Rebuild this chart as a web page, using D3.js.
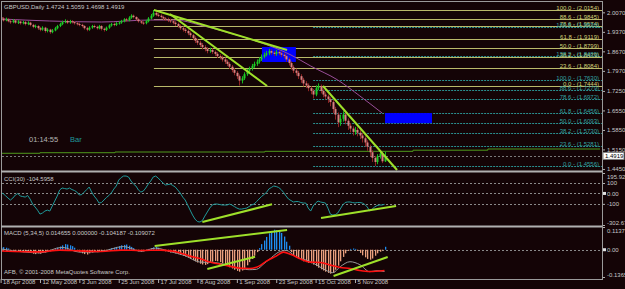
<!DOCTYPE html>
<meta charset="utf-8">
<script src="https://d3js.org/d3.v7.min.js"></script>
<style>
  body { margin: 0; background: #000; }
  svg text { font-family: "Liberation Sans", Arial, sans-serif; }
</style>
<svg id="chart" width="625" height="289"></svg>
<script>

  // ---- data ----
  var firstOpen = 1.990;
  var closes = [1.985,1.978,1.982,1.975,1.972,1.978,1.970,1.974,1.968,1.972,
    1.965,1.970,1.962,1.955,1.958,1.950,1.945,1.952,1.940,1.945,
    1.936,1.942,1.950,1.958,1.965,1.972,1.976,1.970,1.975,1.972,
    1.968,1.965,1.962,1.958,1.950,1.945,1.952,1.958,1.955,1.950,
    1.958,1.948,1.944,1.952,1.960,1.965,1.962,1.968,1.970,1.975,
    1.982,1.978,1.988,1.995,1.990,1.982,1.975,1.970,1.968,1.975,
    1.985,1.995,2.005,1.998,1.995,1.990,1.985,1.982,1.978,1.975,
    1.970,1.965,1.958,1.950,1.945,1.940,1.932,1.925,1.915,1.905,
    1.898,1.890,1.882,1.875,1.868,1.872,1.865,1.858,1.850,1.845,
    1.838,1.830,1.822,1.812,1.800,1.790,1.778,1.762,1.770,1.785,
    1.798,1.805,1.815,1.822,1.830,1.838,1.848,1.855,1.860,1.868,
    1.862,1.858,1.865,1.860,1.855,1.850,1.838,1.825,1.810,1.798,
    1.790,1.778,1.765,1.752,1.745,1.735,1.725,1.712,1.735,1.742,
    1.725,1.712,1.705,1.695,1.685,1.660,1.640,1.612,1.625,1.640,
    1.618,1.600,1.590,1.578,1.585,1.575,1.565,1.555,1.540,1.525,
    1.505,1.485,1.470,1.490,1.500,1.4724,1.4919];
  var highs = [1.995,1.990,1.988,1.986,1.980,1.983,1.981,1.979,1.978,1.977,
    1.976,1.975,1.973,1.966,1.963,1.961,1.955,1.957,1.955,1.950,
    1.948,1.947,1.955,1.962,1.970,1.977,1.982,1.980,1.980,1.979,
    1.976,1.973,1.970,1.966,1.961,1.955,1.957,1.962,1.963,1.959,
    1.962,1.961,1.952,1.956,1.964,1.969,1.970,1.972,1.975,1.980,
    1.986,1.987,1.993,2.000,1.999,1.993,1.986,1.979,1.975,1.980,
    1.990,2.001,2.0154,2.010,2.004,2.000,1.995,1.990,1.988,1.984,
    1.980,1.975,1.970,1.963,1.956,1.951,1.946,1.938,1.930,1.921,
    1.912,1.905,1.897,1.889,1.882,1.880,1.878,1.870,1.864,1.857,
    1.852,1.845,1.837,1.828,1.818,1.807,1.796,1.784,1.778,1.792,
    1.804,1.812,1.822,1.830,1.838,1.846,1.856,1.863,1.868,1.876,
    1.874,1.868,1.872,1.870,1.866,1.861,1.856,1.844,1.831,1.817,
    1.805,1.797,1.785,1.772,1.760,1.752,1.742,1.732,1.745,1.752,
    1.748,1.731,1.720,1.712,1.702,1.692,1.668,1.648,1.640,1.652,
    1.648,1.626,1.610,1.598,1.596,1.594,1.584,1.574,1.562,1.548,
    1.532,1.512,1.492,1.498,1.512,1.506,1.5059];
  var lows = [1.980,1.974,1.975,1.971,1.966,1.968,1.966,1.965,1.963,1.964,
    1.960,1.961,1.957,1.950,1.950,1.944,1.939,1.941,1.934,1.935,
    1.930,1.932,1.939,1.946,1.954,1.961,1.968,1.965,1.966,1.967,
    1.963,1.960,1.957,1.953,1.945,1.939,1.941,1.948,1.950,1.945,
    1.946,1.942,1.938,1.940,1.948,1.956,1.957,1.958,1.963,1.966,
    1.971,1.973,1.975,1.984,1.985,1.977,1.970,1.965,1.962,1.964,
    1.971,1.981,1.991,1.993,1.990,1.985,1.980,1.976,1.972,1.969,
    1.964,1.958,1.952,1.944,1.938,1.933,1.925,1.917,1.907,1.897,
    1.890,1.882,1.874,1.867,1.860,1.862,1.858,1.850,1.843,1.838,
    1.830,1.822,1.814,1.804,1.792,1.781,1.768,1.7444,1.752,1.764,
    1.779,1.791,1.798,1.808,1.815,1.823,1.832,1.842,1.849,1.853,
    1.855,1.850,1.851,1.853,1.847,1.842,1.830,1.816,1.801,1.789,
    1.780,1.768,1.754,1.741,1.735,1.724,1.713,1.698,1.706,1.728,
    1.716,1.702,1.694,1.682,1.670,1.645,1.622,1.595,1.600,1.615,
    1.605,1.585,1.576,1.565,1.568,1.562,1.552,1.540,1.525,1.510,
    1.490,1.470,1.4556,1.462,1.482,1.466,1.4698];

  var cci = [4,-1,-22,-44,-63,-44,-15,-1,-25,-30,
    -35,-20,-54,-102,-130,-160,-198,-188,-169,-160,
    -169,-121,-73,-25,33,52,47,42,52,37,
    28,13,-15,-11,13,37,61,13,-25,-54,
    -92,-87,-63,-39,-20,4,42,71,128,152,
    167,167,157,119,90,71,33,13,23,52,
    90,119,157,167,148,124,100,81,85,90,
    76,61,33,4,-35,-63,-111,-159,-207,-246,
    -270,-274,-260,-217,-178,-140,-111,-102,-102,-106,
    -111,-111,-111,-102,-111,-126,-140,-150,-150,-145,
    -140,-126,-111,-102,-78,-54,-30,-11,9,42,
    57,71,66,57,37,9,-25,-54,-68,-82,
    -78,-78,-87,-92,-92,-140,-169,-121,-92,-73,
    -82,-87,-92,-140,-198,-207,-203,-188,-150,-111,
    -87,-82,-82,-87,-92,-87,-87,-92,-106,-130,
    -169,-150,-130,-116,-111,-111,-104.5958];

  var macdHist = [0.012,0.013,0.010,0.006,-0.004,-0.006,-0.008,-0.006,-0.010,-0.012,
    -0.010,-0.014,-0.016,-0.020,-0.022,-0.018,-0.020,-0.016,-0.014,-0.012,
    -0.008,-0.004,0.004,0.010,0.016,0.022,0.028,0.026,0.022,0.018,
    0.010,-0.006,-0.012,-0.018,-0.022,-0.024,-0.018,-0.014,-0.010,-0.012,
    -0.008,-0.010,-0.008,-0.004,0.004,0.008,0.010,0.014,0.018,0.022,
    0.024,0.026,0.020,0.014,0.008,-0.004,-0.008,-0.010,-0.008,-0.004,
    0.004,0.008,0.012,0.014,0.010,0.004,-0.004,-0.008,-0.010,-0.014,
    -0.016,-0.018,-0.022,-0.026,-0.030,-0.034,-0.040,-0.046,-0.052,-0.058,
    -0.064,-0.070,-0.074,-0.076,-0.072,-0.066,-0.060,-0.056,-0.058,-0.062,
    -0.068,-0.074,-0.080,-0.088,-0.094,-0.100,-0.106,-0.110,-0.104,-0.092,
    -0.078,-0.062,-0.046,-0.030,-0.012,0.008,0.028,0.046,0.064,0.082,
    0.094,0.100,0.098,0.096,0.084,0.066,0.040,0.020,-0.012,-0.030,
    -0.040,-0.046,-0.052,-0.058,-0.062,-0.066,-0.068,-0.074,-0.082,-0.090,
    -0.098,-0.104,-0.110,-0.116,-0.120,-0.116,-0.100,-0.080,-0.058,-0.036,
    -0.018,-0.006,0.004,0.006,0.004,-0.006,-0.016,-0.028,-0.038,-0.046,
    -0.050,-0.044,-0.030,-0.018,-0.010,-0.004,0.014655];

  // [bar index, value]
  var macdSignal = [[0,-0.006],[16,-0.011],[24,-0.002],[32,-0.006],[41,-0.009],[49,-0.002],
    [57,-0.004],[65,-0.002],[69,-0.006],[73,-0.016],[77,-0.032],[81,-0.044],[85,-0.062],
    [89,-0.072],[93,-0.082],[97,-0.092],[101,-0.094],[105,-0.082],[108,-0.057],[112,-0.032],
    [115,-0.012],[118,-0.024],[122,-0.047],[126,-0.062],[130,-0.064],[134,-0.077],[138,-0.089],
    [142,-0.094],[146,-0.104],[150,-0.109],[156,-0.104187]];
  var macdGray = [[0,0.004],[10,-0.012],[16,-0.016],[25,0.012],[32,-0.012],[40,-0.010],
    [50,0.016],[57,-0.008],[63,0.008],[69,-0.010],[75,-0.030],[81,-0.062],[86,-0.064],
    [90,-0.070],[95,-0.090],[98,-0.096],[101,-0.100],[104,-0.098],[107,-0.070],[110,-0.040],
    [113,-0.012],[116,-0.004],[120,-0.035],[126,-0.060],[131,-0.095],[135,-0.115],[138,-0.085],
    [142,-0.060],[146,-0.075],[150,-0.110],[153,-0.105],[156,-0.109072]];

  var maPurple = [[0.6,1.9830],[20,1.9759],[41,1.9723],[61,1.9795],[71,1.9795],[81,1.9615],
    [93,1.9328],[105,1.9005],[118,1.8539],[126,1.8144],[137,1.7642],[146,1.7068],[155,1.6458]];
  var maLong = [[0,1.5012],[16,1.5033],[46.5,1.5058],[107.4,1.5083],[167.6,1.5123],[198,1.5166],[243.6,1.5166]];

  var fibYellow = [["100.0",2.0154],["88.6",1.9845],["78.6",1.9574],["61.8",1.9119],
    ["50.0",1.8799],["38.2",1.8479],["23.6",1.8084],["0.0",1.7444]];
  var fibCyan = [["161.8",1.9530],["138.2",1.8489],["100.0",1.7630],["88.6",1.7279],["78.6",1.6972],
    ["61.8",1.6456],["50.0",1.6093],["38.2",1.5730],["23.6",1.5281],["0.0",1.4556]];
  var fibYellowStart = 62.3, fibCyanStart = 127;

  // [i1, v1, i2, v2]
  var trendPrice = [[62.3,2.0153,116.4,1.8718],[68.8,2.0010,108.3,1.7426],[131,1.7426,161.1,1.4412]];
  var trendCci = [[82,-274,110.3,-104],[130.2,-236,160.7,-121]];
  var trendMacd = [[62.6,0.0185,116.4,0.0986],[84,-0.0966,103.4,-0.035],[135.3,-0.1317,157.3,-0.0366]];
  var boxes = [[106.2,1.8826,120.0,1.8288],[156.2,1.6456,175.3,1.6093]];

  var dateIdx = [0,16,32,48,64,80,96,112,128,144];
  var dateLabels = ["18 Apr 2008","12 May 2008","3 Jun 2008","25 Jun 2008","17 Jul 2008",
    "8 Aug 2008","1 Sep 2008","23 Sep 2008","15 Oct 2008","5 Nov 2008"];
  var priceTicks = [2.0070,1.9370,1.8670,1.7970,1.7250,1.6550,1.5850,1.5150,1.4450];
  var cciTicks = [195.9209,100,0,-100,-302.674];
  var cciLevels = [100,0,-100];
  var macdTicks = [0.11373,0,-0.13657];

  // ---- layout ----
  var svg = d3.select("#chart"),
    width = +svg.attr("width"),
    height = +svg.attr("height");
  var axisX = 602;

  var x = d3.scaleLinear().domain([0, 156]).range([0.6, 384.5]);
  var y = d3.scaleLinear().domain([1.4556, 2.0154]).range([166, 10]);
  var yCci = d3.scaleLinear().domain([-302.674, 195.9209]).range([225, 173]);
  var yMacd = d3.scaleLinear().domain([-0.13657, 0.11373]).range([277, 227]);

  svg.append("rect").attr("width", width).attr("height", height).attr("fill", "#140406");

  var defs = svg.append("defs");
  defs.append("clipPath").attr("id", "cMain").append("rect").attr("x", 2).attr("y", 2).attr("width", axisX - 2).attr("height", 169);
  defs.append("clipPath").attr("id", "cCci").append("rect").attr("x", 2).attr("y", 173).attr("width", axisX - 2).attr("height", 53);
  defs.append("clipPath").attr("id", "cMacd").append("rect").attr("x", 2).attr("y", 228).attr("width", axisX - 2).attr("height", 51);

  var main = svg.append("g").attr("clip-path", "url(#cMain)");

  // fibonacci levels
  function fib(levels, start, lineCol, textCol, dash) {
    levels.forEach(function(l) {
      main.append("line")
        .attr("x1", x(start)).attr("x2", axisX)
        .attr("y1", Math.round(y(l[1])) + 0.5).attr("y2", Math.round(y(l[1])) + 0.5)
        .attr("stroke", lineCol).attr("stroke-dasharray", dash);
      svg.append("text")
        .attr("x", 599).attr("y", Math.round(y(l[1])) - 0.5)
        .attr("text-anchor", "end").attr("font-size", "6px").attr("fill", textCol)
        .text(l[0] + " - (" + l[1].toFixed(4) + ")");
    });
  }
  fib(fibYellow, fibYellowStart, "#b9b96a", "#d2d278", null);
  fib(fibCyan, fibCyanStart, "#2a8f8f", "#33a3a3", "2,1");

  // boxes
  main.selectAll(".box").data(boxes).enter().append("rect")
    .attr("x", function(d) { return x(d[0]); })
    .attr("y", function(d) { return y(d[1]); })
    .attr("width", function(d) { return x(d[2]) - x(d[0]); })
    .attr("height", function(d) { return y(d[3]) - y(d[1]); })
    .attr("fill", "#0000ff");

  // long MA and bid line
  var priceLine = d3.line().x(function(d) { return x(d[0]); }).y(function(d) { return y(d[1]); });
  main.append("path").attr("d", priceLine.curve(d3.curveStepAfter)(maLong))
    .attr("fill", "none").attr("stroke", "#4f9a1c");
  main.append("line").attr("x1", 2).attr("x2", axisX)
    .attr("y1", Math.round(y(closes[156])) + 0.5).attr("y2", Math.round(y(closes[156])) + 0.5)
    .attr("stroke", "#7a7a7a").attr("stroke-dasharray", "2,2");

  main.append("path").attr("d", priceLine.curve(d3.curveMonotoneX)(maPurple))
    .attr("fill", "none").attr("stroke", "#9a4f9a");

  // candles
  var bars = closes.map(function(c, i) {
    return { i: i, o: i ? closes[i - 1] : firstOpen, c: c, h: highs[i], l: lows[i] };
  });
  var cg = main.append("g");
  cg.selectAll(".wick").data(bars).enter().append("line")
    .attr("x1", function(d) { return Math.round(x(d.i)) + 0.5; })
    .attr("x2", function(d) { return Math.round(x(d.i)) + 0.5; })
    .attr("y1", function(d) { return y(d.h); })
    .attr("y2", function(d) { return y(d.l); })
    .attr("stroke", function(d) { return d.c >= d.o ? "#16b81e" : "#8e2222"; });
  cg.selectAll(".body").data(bars).enter().append("rect")
    .attr("x", function(d) { return Math.round(x(d.i)) - 0.5; })
    .attr("width", 2)
    .attr("y", function(d) { return y(Math.max(d.o, d.c)); })
    .attr("height", function(d) { return Math.max(1, Math.abs(y(d.o) - y(d.c))); })
    .attr("fill", function(d) { return d.c >= d.o ? "#1ecc28" : "#d88080"; });

  // trend lines
  function trends(g, data, sc) {
    g.selectAll(".tl").data(data).enter().append("line")
      .attr("x1", function(d) { return x(d[0]); }).attr("y1", function(d) { return sc(d[1]); })
      .attr("x2", function(d) { return x(d[2]); }).attr("y2", function(d) { return sc(d[3]); })
      .attr("stroke", "#9ee02a").attr("stroke-width", 2);
  }
  trends(main, trendPrice, y);

  // ---- CCI panel ----
  var cg2 = svg.append("g").attr("clip-path", "url(#cCci)");
  cg2.selectAll(".lv").data(cciLevels).enter().append("line")
    .attr("x1", 2).attr("x2", axisX)
    .attr("y1", function(d) { return Math.round(yCci(d)) + 0.5; })
    .attr("y2", function(d) { return Math.round(yCci(d)) + 0.5; })
    .attr("stroke", "#8a8a8a").attr("stroke-dasharray", "2,2");
  cg2.append("path").datum(cci)
    .attr("d", d3.line().x(function(d, i) { return x(i); }).y(function(d) { return yCci(d); }))
    .attr("fill", "none").attr("stroke", "#1f9a9a");
  trends(cg2, trendCci, yCci);

  // ---- MACD panel ----
  var mg = svg.append("g").attr("clip-path", "url(#cMacd)");
  mg.append("line").attr("x1", 2).attr("x2", axisX)
    .attr("y1", Math.round(yMacd(0)) + 0.5).attr("y2", Math.round(yMacd(0)) + 0.5)
    .attr("stroke", "#8a8a8a").attr("stroke-dasharray", "2,2");
  mg.selectAll(".hb").data(macdHist).enter().append("rect")
    .attr("x", function(d, i) { return Math.round(x(i)); })
    .attr("width", 1.3)
    .attr("y", function(d) { return yMacd(Math.max(0, d)); })
    .attr("height", function(d) { return Math.abs(yMacd(d) - yMacd(0)); })
    .attr("fill", function(d) { return d >= 0 ? "#1e8cf0" : "#eaa07e"; });
  var macdLine = d3.line().x(function(d) { return x(d[0]); }).y(function(d) { return yMacd(d[1]); }).curve(d3.curveMonotoneX);
  mg.append("path").attr("d", macdLine(macdGray)).attr("fill", "none").attr("stroke", "#9a9a9a");
  mg.append("path").attr("d", macdLine(macdSignal)).attr("fill", "none").attr("stroke", "#ff1010").attr("stroke-width", 1.6);
  trends(mg, trendMacd, yMacd);

  // ---- frames ----
  svg.append("line").attr("x1", 1).attr("x2", axisX).attr("y1", 1.5).attr("y2", 1.5).attr("stroke", "#9a9a9a");
  svg.append("line").attr("x1", 1.5).attr("x2", 1.5).attr("y1", 1).attr("y2", 279).attr("stroke", "#9a9a9a");
  [171.5, 226.5].forEach(function(v) {
    svg.append("rect").attr("x", 1).attr("y", v - 1).attr("width", axisX).attr("height", 2).attr("fill", "#b0b0b0");
  });
  svg.append("line").attr("x1", 1).attr("x2", axisX + 1).attr("y1", 279.5).attr("y2", 279.5).attr("stroke", "#9a9a9a");
  svg.append("line").attr("x1", axisX + 0.5).attr("x2", axisX + 0.5).attr("y1", 1).attr("y2", 280).attr("stroke", "#9a9a9a");

  // ---- axes ----
  function styleAxis(g) {
    g.select(".domain").remove();
    g.selectAll("line").attr("stroke", "#b0b0b0");
    g.selectAll("text").attr("fill", "#c8c8c8").attr("font-size", "6px")
      .attr("font-family", "Liberation Sans, Arial, sans-serif");
  }
  // top label of a panel sits under its tick, bottom label above it
  function nudgeEnds(g, top, bottom) {
    g.selectAll(".tick text").attr("dy", function(d) {
      return d === top ? "0.95em" : (d === bottom ? "-0.1em" : "0.32em");
    });
  }
  svg.append("g").attr("transform", "translate(" + (axisX + 1) + ",0)")
    .call(d3.axisRight(y).tickValues(priceTicks).tickSize(2).tickPadding(2).tickFormat(d3.format(".4f")))
    .call(styleAxis);
  svg.append("g").attr("transform", "translate(" + (axisX + 1) + ",0)")
    .call(d3.axisRight(yCci).tickValues(cciTicks).tickSize(2).tickPadding(2)
      .tickFormat(function(d) { return d === 0 ? "0.00" : d; }))
    .call(styleAxis)
    .call(nudgeEnds, cciTicks[0], cciTicks[cciTicks.length - 1]);
  svg.append("g").attr("transform", "translate(" + (axisX + 1) + ",0)")
    .call(d3.axisRight(yMacd).tickValues(macdTicks).tickSize(2).tickPadding(2)
      .tickFormat(function(d) { return d === 0 ? "0.00" : d; }))
    .call(styleAxis)
    .call(nudgeEnds, macdTicks[0], macdTicks[macdTicks.length - 1]);
  svg.append("g").attr("transform", "translate(0,279)")
    .call(d3.axisBottom(x).tickValues(dateIdx).tickSize(4).tickPadding(-1)
      .tickFormat(function(d, i) { return dateLabels[i]; }))
    .call(styleAxis)
    .selectAll("text").attr("text-anchor", "start").attr("dx", 2).attr("dy", "0.3em");

  // zero markers and current price box
  [yCci(0), yMacd(0)].forEach(function(v) {
    svg.append("rect").attr("x", axisX + 1).attr("y", v - 1.5).attr("width", 3).attr("height", 3).attr("fill", "#e0e0e0");
  });
  svg.append("rect").attr("x", axisX + 1).attr("y", y(closes[156]) - 3.5).attr("width", 21).attr("height", 7)
    .attr("fill", "#ffffff").attr("stroke", "#808080");
  svg.append("text").attr("x", axisX + 3).attr("y", y(closes[156]) + 2.2)
    .attr("font-size", "6px").attr("fill", "#000").text(closes[156].toFixed(4));

  // ---- texts ----
  function label(tx, ty, s, col, fs) {
    svg.append("text").attr("x", tx).attr("y", ty).attr("font-size", fs || "6px").attr("fill", col).text(s);
  }
  label(4, 8.5, "GBPUSD,Daily  1.4724 1.5059 1.4698 1.4919", "#c8c8c8");
  label(29, 141.5, "01:14:55", "#b4b4b4", "7.5px");
  label(70, 141.5, "Bar", "#1f9a9a", "7.5px");
  label(4, 181, "CCI(30) -104.5958", "#c8c8c8");
  label(4, 235, "MACD  (5,34,5) 0.014655 0.000000 -0.104187 -0.109072", "#c8c8c8");
  label(4, 274, "AFB, \u00a9 2001-2008 MetaQuotes Software Corp.", "#c8c8c8");

</script>
